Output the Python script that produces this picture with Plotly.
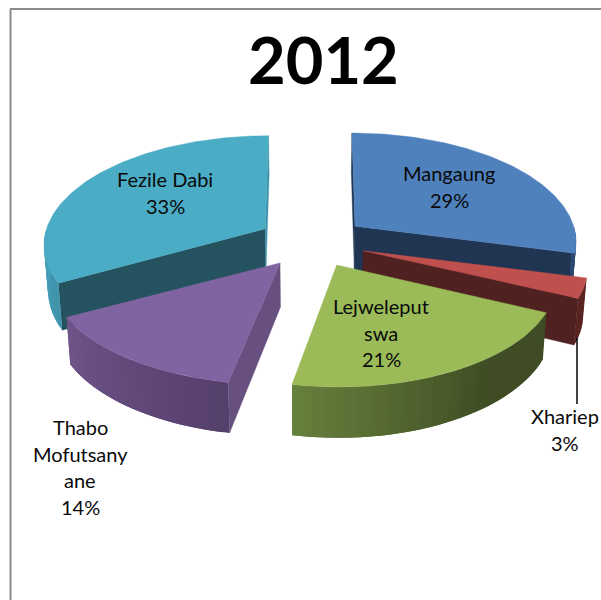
import math
import plotly.graph_objects as go

# Share of each district in 2012, clockwise from twelve o'clock
districts = ["Mangaung", "Xhariep", "Lejweleputswa", "Thabo Mofutsanyane", "Fezile Dabi"]
shares = [29, 3, 21, 14, 33]
label_lines = [["Mangaung"], ["Xhariep"], ["Lejweleput", "swa"], ["Thabo", "Mofutsany", "ane"], ["Fezile Dabi"]]

top_colors = ["#4F81BD", "#C0504D", "#9BBB59", "#8064A2", "#4BACC6"]
radial_colors = [("#1F3552", "#1F3552"), ("#4F2120", "#4F2120"), ("#3F4C24", "#3F4C24"),
                 ("#67507F", "#67507F"), ("#24525E", "#3F93AB")]
arc_colors = [("#2C4A72", "#2C4A72"), ("#5A2422", "#5A2422"), ("#3F4C24", "#66803C"),
              ("#553F6B", "#6E5489"), ("#3F93AB", "#46A2BA")]
shade_onset = [0, 0, 0.35, 0, 0]
width_gain = [0.985, 1.0, 0.98, 1.02, 0.985]

# Projection of the tilted pie onto the pixel-sized plot area
CX, CY = 312.0, 242.0
RX, RY = 222.0, 105.6
PERSPECTIVE = 0.134
EXPLODE = 0.245
DEPTH = 44.0
BOTTOM_SHRINK = 0.985
SKEW = 0.6
draw_order = [0, 4, 1, 3, 2]


def scale(y):
    return 1.0 / (1.0 - PERSPECTIVE * y)


def hex_rgb(c):
    return tuple(int(c[i:i + 2], 16) for i in (1, 3, 5))


def mix(a, b, t):
    pa, pb = hex_rgb(a), hex_rgb(b)
    return "rgb({},{},{})".format(*(round(p + (q - p) * t) for p, q in zip(pa, pb)))


def project(apex, gain, theta, r, bottom=False):
    """Pixel position of a point on a slice, given in polar form around its apex."""
    gx, gy = r * math.sin(theta), -r * math.cos(theta)
    s = scale(gy)
    x = apex[0] + RX * gain * gx * s + SKEW * (apex[0] - CX) * (s - 1)
    y = apex[1] + RY * gy * s
    if bottom:
        x = CX + (x - CX) * BOTTOM_SHRINK
        y += DEPTH * s
    return x, y


def polygon(points, color, outline=0.0):
    xs, ys = zip(*points)
    return go.Scatter(x=list(xs) + [xs[0]], y=list(ys) + [ys[0]], mode="lines", fill="toself",
                      fillcolor=color, line=dict(color=color, width=outline),
                      hoverinfo="skip", showlegend=False)


def signed_area(points):
    return sum(points[i][0] * points[(i + 1) % len(points)][1] - points[(i + 1) % len(points)][0] * points[i][1]
               for i in range(len(points))) / 2


traces = []
total = sum(shares)
starts = [sum(shares[:i]) / total * 2 * math.pi for i in range(len(shares))]

for i in draw_order:
    a0 = starts[i]
    a1 = a0 + shares[i] / total * 2 * math.pi
    mid = (a0 + a1) / 2
    apex = (CX + RX * EXPLODE * math.sin(mid), CY - RY * EXPLODE * math.cos(mid))
    gain = width_gain[i]

    def at(theta, r, bottom=False):
        return project(apex, gain, theta, r, bottom)

    # Cut faces, kept only where they turn towards the viewer
    for ang, sign, color in ((a0, 1, radial_colors[i][0]), (a1, -1, radial_colors[i][1])):
        quad = [at(ang, 0), at(ang, 1), at(ang, 1, True), at(ang, 0, True)]
        if signed_area(quad) * sign < 0:
            traces.append(polygon(quad, color, 0.4))

    # Curved rim: each strip runs on under the next so no seams show between them
    lo, hi = max(a0, math.pi / 2), min(a1, 3 * math.pi / 2)
    if hi > lo:
        n = max(2, int((hi - lo) / math.radians(1.5)))
        onset = shade_onset[i]
        for k in range(n):
            t0 = lo + (hi - lo) * k / n
            t1 = min(hi, lo + (hi - lo) * (k + 2) / n)
            quad = [at(t0, 1), at(t1, 1), at(t1, 1, True), at(t0, 1, True)]
            frac = max(0.0, ((k + 0.5) / n - onset) / (1 - onset))
            traces.append(polygon(quad, mix(arc_colors[i][0], arc_colors[i][1], frac)))

    # Top face
    n = max(4, int((a1 - a0) / math.radians(1)))
    top = [at(0, 0)] + [at(a0 + (a1 - a0) * k / n, 1) for k in range(n + 1)]
    traces.append(polygon(top, top_colors[i], 0.4))

# Leader line for the small slice
traces.append(go.Scatter(x=[577, 577], y=[338, 404], mode="lines",
                         line=dict(color="#000000", width=1.5), hoverinfo="skip", showlegend=False))

fig = go.Figure(traces)

label_anchor = [(449, 173), (565, 416), (381, 306), (80, 427), (165, 179)]
LINE_STEP = 26.7
for lines, share, (lx, ly) in zip(label_lines, shares, label_anchor):
    for j, text in enumerate(lines + [f"{share}%"]):
        fig.add_annotation(x=lx, y=ly + j * LINE_STEP, text=text, showarrow=False,
                           xanchor="center", yanchor="middle",
                           font=dict(family="Lato", size=20, color="#0A0A0A"))

fig.add_annotation(x=323, y=59, text="<b>2012</b>", showarrow=False, xanchor="center", yanchor="middle",
                   font=dict(family="Lato", size=65, color="#000000"))

frame = dict(type="line", line=dict(color="#8C8C8C", width=2), layer="below")
fig.add_shape(x0=10.5, x1=10.5, y0=9, y1=600, **frame)
fig.add_shape(x0=10, x1=601, y0=9, y1=9, **frame)

hidden = dict(visible=False, fixedrange=True)
fig.update_layout(width=601, height=600, margin=dict(l=0, r=0, t=0, b=0),
                  paper_bgcolor="#FFFFFF", plot_bgcolor="#FFFFFF", showlegend=False,
                  xaxis=dict(range=[0, 601], **hidden),
                  yaxis=dict(range=[600, 0], **hidden))

fig.write_html("out.html", config={"displayModeBar": False})
